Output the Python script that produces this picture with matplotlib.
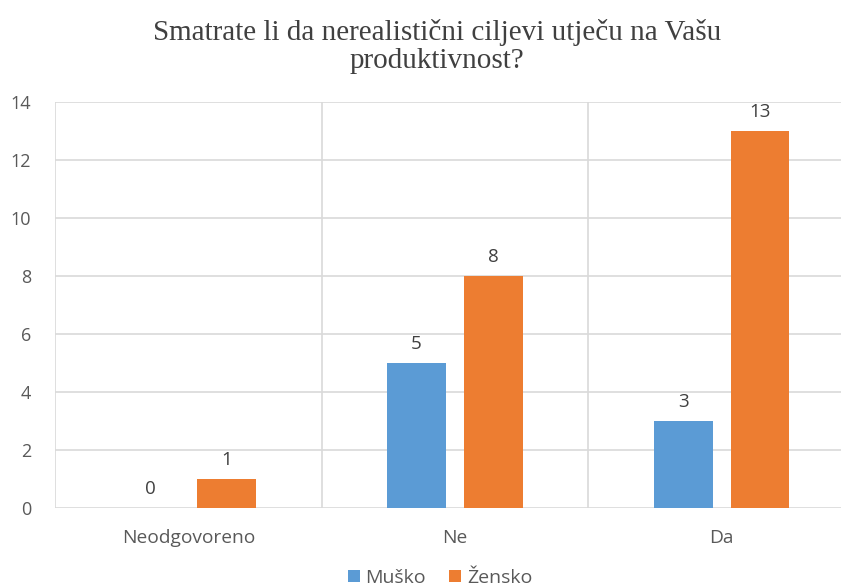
import matplotlib
matplotlib.use("Agg")
import matplotlib.pyplot as plt
import numpy as np

categories = ["Neodgovoreno", "Ne", "Da"]
musko = [0, 5, 3]
zensko = [1, 8, 13]
series_names = ["Muško", "Žensko"]
yticks = [0, 2, 4, 6, 8, 10, 12, 14]

blue = "#5b9bd5"
orange = "#ed7d31"
grid = "#d9d9d9"
txt = "#595959"

fig = plt.figure(figsize=(8.41, 5.87), dpi=100)
ax = fig.add_axes([55/841, 1-508/587, 800/841, (508-102)/587])

x = np.arange(len(categories))
w = 0.22
off = 0.144
b1 = ax.bar(x - off, musko, w, color=blue, label=series_names[0], zorder=3)
b2 = ax.bar(x + off, zensko, w, color=orange, label=series_names[1], zorder=3)

for bars, vals in ((b1, musko), (b2, zensko)):
    for r, v in zip(bars, vals):
        ax.annotate(str(v), (r.get_x() + r.get_width()/2, v), xytext=(0, 7),
                    textcoords="offset points", ha="center", va="bottom",
                    fontsize=13.5, color="#404040", family="Open Sans")

ax.set_xlim(-0.5, 2.5)
ax.set_ylim(0, 14)
ax.set_yticks(yticks)
ax.set_xticks(x)
ax.set_xticklabels(categories)
for xv in [-0.5, 0.5, 1.5, 2.5]:
    ax.axvline(xv, color=grid, lw=1.2, zorder=1)
ax.yaxis.grid(True, color=grid, lw=1.2, zorder=1)
for s in ax.spines.values():
    s.set_visible(False)
ax.tick_params(axis="both", length=0, colors=txt)
ax.tick_params(axis="y", pad=17, labelsize=13)
ax.tick_params(axis="x", pad=15, labelsize=13.8)
for lab in ax.get_xticklabels() + ax.get_yticklabels():
    lab.set_family("Open Sans")

fig.text(437/841, 1-46/587, "Smatrate li da nerealistični ciljevi utječu na Vašu\nproduktivnost?",
         ha="center", va="center", fontsize=21, family="Liberation Serif", color="#404040",
         linespacing=1.1)

leg = fig.legend(handles=[b1, b2], labels=series_names, loc="center", bbox_to_anchor=(440/841, 1-578/587),
                 ncol=2, frameon=False, fontsize=14, handlelength=0.6, handleheight=0.6,
                 handletextpad=0.3, columnspacing=1.2)
for t in leg.get_texts():
    t.set_color(txt)
    t.set_family("Open Sans")

fig.savefig("out.png", dpi=100)
